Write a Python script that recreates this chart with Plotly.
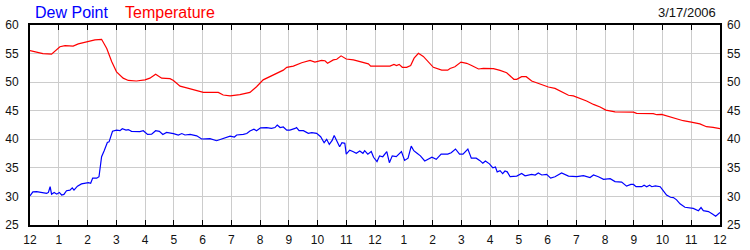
import plotly.graph_objects as go

# Hours since midnight (0..24)
temp_hours = [0, 0.23, 0.45, 0.75, 1.04, 1.22, 1.5, 1.68, 1.97, 2.26, 2.49, 2.67, 2.84, 3.01, 3.24, 3.42, 3.7, 4.0,
              4.17, 4.37, 4.58, 4.87, 4.99, 5.22, 5.45, 5.8, 6.03, 6.55, 6.72, 6.96, 7.3, 7.65, 7.88, 8.11, 8.46,
              8.81, 8.93, 9.16, 9.45, 9.74, 9.91, 10.14, 10.26, 10.35, 10.55, 10.67, 10.82, 11.0, 11.25, 11.42,
              11.6, 11.77, 11.85, 12.52, 12.66, 12.75, 12.84, 12.95, 13.1, 13.24, 13.36, 13.51, 13.68, 13.86,
              14.03, 14.32, 14.53, 14.61, 14.78, 14.99, 15.19, 15.36, 15.6, 15.77, 16.12, 16.35, 16.58, 16.83,
              16.93, 17.1, 17.26, 17.45, 17.74, 18.03, 18.26, 18.55, 18.73, 18.9, 19.13, 19.36, 19.6, 19.83,
              20.03, 20.35, 20.99, 21.1, 21.68, 21.8, 21.97, 22.14, 22.43, 22.72, 23.0, 23.3, 23.53, 23.76, 24.0]
temperature = [55.5, 55.2, 55.0, 54.9, 56.2, 56.4, 56.3, 56.7, 57.0, 57.4, 57.5, 55.9, 53.6, 51.8, 50.7, 50.3, 50.2, 50.4,
               50.7, 51.4, 50.7, 50.6, 50.3, 49.3, 49.0, 48.5, 48.2, 48.2, 47.75, 47.6, 47.8, 48.2, 49.2, 50.4, 51.25,
               52.1, 52.6, 52.8, 53.4, 53.8, 53.5, 53.8, 53.75, 53.3, 53.9, 54.0, 54.6, 54.05, 53.9, 53.7,
               53.4, 53.2, 52.8, 52.8, 53.1, 52.9, 53.1, 52.6, 52.6, 52.9, 54.2, 55.05, 54.5, 53.6,
               52.6, 52.1, 52.1, 52.4, 52.7, 53.5, 53.3, 52.9, 52.3, 52.4, 52.35, 52.05, 51.65, 50.5,
               50.5, 50.95, 50.95, 50.2, 49.7, 49.15, 48.9, 48.15, 47.7, 47.6, 47.2, 46.7, 46.1, 45.65,
               45.1, 44.8, 44.75, 44.55, 44.5, 44.3, 44.35, 44.1, 43.55, 43.25, 43.0, 42.7, 42.2, 42.1, 41.85]

dew_hours = [0, 0.1, 0.23, 0.4, 0.58, 0.64, 0.7, 0.75, 0.84, 0.93, 1.02, 1.1, 1.18, 1.27, 1.39, 1.47, 1.53, 1.65, 1.79,
             2.03, 2.11, 2.18, 2.32, 2.4, 2.44, 2.49, 2.58, 2.69, 2.75, 2.82, 2.87, 3.01, 3.13, 3.21, 3.34, 3.42,
             3.53, 3.82, 3.94, 4.09, 4.23, 4.37, 4.5, 4.62, 4.75, 4.99, 5.16, 5.28, 5.39, 5.57, 5.8, 5.97, 6.26,
             6.49, 6.72, 6.96, 7.11, 7.19, 7.42, 7.54, 7.65, 7.79, 7.88, 8.02, 8.23, 8.4, 8.52, 8.6, 8.7, 8.81,
             8.93, 9.04, 9.22, 9.27, 9.36, 9.51, 9.68, 9.8, 9.97, 10.11, 10.23, 10.32, 10.41, 10.51, 10.58,
             10.68, 10.77, 10.85, 10.95, 11.0, 11.12, 11.23, 11.35, 11.47, 11.58, 11.64, 11.75, 11.87, 11.95,
             12.07, 12.16, 12.27, 12.41, 12.5, 12.6, 12.74, 12.92, 13.03, 13.15, 13.26, 13.35, 13.44, 13.58,
             13.73, 13.84, 13.98, 14.13, 14.3, 14.53, 14.65, 14.8, 14.94, 15.06, 15.23, 15.35, 15.52, 15.64,
             15.75, 15.84, 15.98, 16.1, 16.19, 16.25, 16.35, 16.44, 16.52, 16.6, 16.7, 16.93, 17.1, 17.22,
             17.45, 17.57, 17.68, 17.8, 17.97, 18.11, 18.26, 18.49, 18.73, 19.02, 19.25, 19.48, 19.6, 19.77,
             19.95, 20.18, 20.35, 20.58, 20.75, 20.9, 20.99, 21.08, 21.28, 21.36, 21.45, 21.55, 21.63, 21.75,
             21.92, 22.01, 22.14, 22.28, 22.38, 22.49, 22.61, 22.78, 22.96, 23.07, 23.25, 23.34, 23.42, 23.6,
             23.75, 23.85, 24.0]
dew_point = [30.1, 30.8, 30.85, 30.7, 30.55, 30.7, 31.7, 30.4, 30.7, 30.4, 30.7, 30.25, 30.35, 31.0, 31.1, 31.5, 31.1, 31.8, 32.2,
             32.4, 32.3, 33.2, 33.2, 33.45, 34.9, 36.95, 38.0, 39.45, 39.55, 40.45, 41.4, 41.6, 41.5, 41.85, 41.6, 41.7,
             41.4, 41.35, 41.5, 40.85, 40.9, 41.5, 41.4, 40.85, 41.2, 41.0, 40.75, 41.0, 40.75, 40.85, 40.6, 40.05, 40.1,
             39.75, 40.1, 40.55, 40.4, 40.75, 40.85, 41.0, 41.45, 41.75, 41.5, 42.0, 42.05, 41.9, 42.05, 42.5, 42.05, 42.15,
             41.6, 41.6, 41.9, 42.05, 41.5, 41.5, 41.05, 41.15, 41.05, 40.45, 39.4, 40.0, 39.1, 39.8, 40.65,
             39.65, 38.7, 39.4, 39.3, 37.4, 38.1, 37.85, 37.55, 37.95, 37.55, 38.0, 37.4, 37.85, 36.85,
             36.1, 37.1, 36.95, 37.85, 35.9, 37.1, 36.95, 37.85, 36.3, 36.7, 38.8, 38.0, 37.65, 37.1,
             36.2, 36.55, 36.85, 36.5, 37.4, 37.4, 37.65, 38.3, 37.4, 37.4, 38.3, 36.7, 36.7, 36.3,
             35.8, 36.2, 35.7, 35.0, 35.15, 34.3, 34.5, 34.0, 34.45, 34.3, 33.45, 33.55, 34.0, 33.6,
             33.85, 33.75, 34.1, 33.75, 33.85, 33.2, 33.45, 34.1, 33.55, 33.45, 33.65, 33.3, 33.75, 33.45,
             33.0, 33.1, 32.6, 32.5, 31.8, 32.1, 32.1, 31.7, 31.7, 31.95, 31.7, 31.95, 31.7, 31.85,
             31.7, 31.1, 30.25, 29.85, 29.8, 29.4, 28.7, 28.1, 28.0, 27.9, 27.5, 28.05, 27.5, 27.35,
             26.9, 26.55, 27.2]

x_tick_vals = list(range(0, 25))
x_tick_text = ["12", "1", "2", "3", "4", "5", "6", "7", "8", "9", "10", "11",
               "12", "1", "2", "3", "4", "5", "6", "7", "8", "9", "10", "11", "12"]
y_tick_vals = [25, 30, 35, 40, 45, 50, 55, 60]

date_label = "3/17/2006"

fig = go.Figure()
fig.add_trace(go.Scatter(x=temp_hours, y=temperature, mode="lines", name="Temperature",
                         line=dict(color="#ff0000", width=1.2)))
fig.add_trace(go.Scatter(x=dew_hours, y=dew_point, mode="lines", name="Dew Point",
                         line=dict(color="#0000ff", width=1.2)))
# invisible trace for right axis labels
fig.add_trace(go.Scatter(x=[0], y=[25], yaxis="y2", mode="markers",
                         marker=dict(opacity=0), showlegend=False, hoverinfo="skip"))

tick_font = dict(family="Liberation Sans, Arial, sans-serif", size=12, color="#111111")

fig.update_layout(
    width=750, height=250,
    margin=dict(l=30, r=30, t=25, b=25, pad=0, autoexpand=False),
    paper_bgcolor="white", plot_bgcolor="white",
    showlegend=False,
    xaxis=dict(range=[0, 24], tickvals=x_tick_vals, ticktext=x_tick_text,
               showgrid=True, gridcolor="#cccccc", gridwidth=1,
               showline=True, linecolor="black", linewidth=2, mirror="ticks",
               ticks="inside", ticklen=5, tickcolor="black", tickwidth=1,
               tickfont=tick_font, zeroline=False, ticklabelstandoff=3, automargin=False),
    yaxis=dict(range=[25, 60], tickvals=y_tick_vals,
               showgrid=True, gridcolor="#cccccc", gridwidth=1,
               showline=True, linecolor="black", linewidth=2, mirror=True,
               ticks="", tickfont=tick_font, zeroline=False, ticklabelstandoff=7, automargin=False),
    yaxis2=dict(range=[25, 60], tickvals=y_tick_vals, overlaying="y", side="right",
                showgrid=False, showline=False, ticks="", tickfont=tick_font,
                zeroline=False, ticklabelstandoff=6, automargin=False),
)

# Position header texts in pixel terms converted to paper coordinates
plot_w = 750 - 30 - 30
plot_h = 250 - 25 - 25
def px_to_paper_x(px):
    return (px - 30) / plot_w
def px_to_paper_y(py):
    return (250 - 25 - py) / plot_h

fig.layout.annotations = [
    dict(text="Dew Point", x=px_to_paper_x(33), y=px_to_paper_y(13), xref="paper", yref="paper",
         xanchor="left", yanchor="middle", showarrow=False,
         font=dict(family="Liberation Sans, Arial, sans-serif", size=16, color="#0000ff")),
    dict(text="Temperature", x=px_to_paper_x(123), y=px_to_paper_y(13), xref="paper", yref="paper",
         xanchor="left", yanchor="middle", showarrow=False,
         font=dict(family="Liberation Sans, Arial, sans-serif", size=16, color="#ff0000")),
    dict(text=date_label, x=px_to_paper_x(718), y=px_to_paper_y(13), xref="paper", yref="paper",
         xanchor="right", yanchor="middle", showarrow=False,
         font=dict(family="Liberation Sans, Arial, sans-serif", size=13, color="#111111")),
]

fig.write_html("out.html")
